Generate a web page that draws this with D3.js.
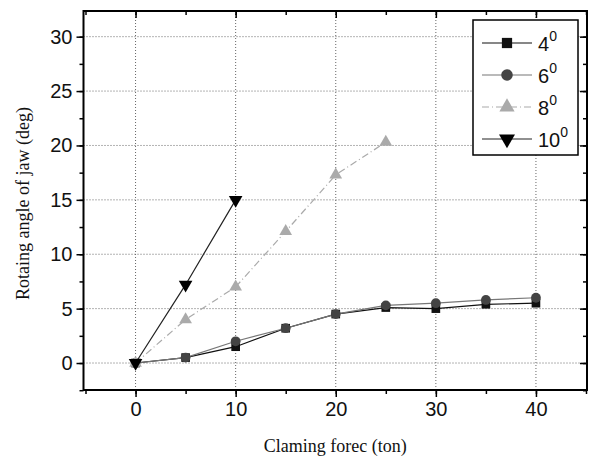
<!DOCTYPE html>
<html>
<head>
<meta charset="utf-8">
<script src="https://cdn.jsdelivr.net/npm/d3@7"></script>
<style>
  body { margin: 0; background: #fff; }
  svg { display: block; }
</style>
</head>
<body>
<div id="chart"></div>
<script>
// Data
const force = [0, 5, 10, 15, 20, 25, 30, 35, 40];
const angle4 = [0, 0.5, 1.5, 3.2, 4.5, 5.1, 5.0, 5.4, 5.5];
const angle6 = [0, 0.5, 2.0, 3.2, 4.5, 5.3, 5.5, 5.8, 6.0];
const angle8 = [0, 4.0, 7.0, 12.1, 17.3, 20.3];
const angle10 = [0, 7.2, 15.0];
const seriesLabels = ["4", "6", "8", "10"];
const xTicks = [0, 10, 20, 30, 40];
const yTicks = [0, 5, 10, 15, 20, 25, 30];

const width = 589, height = 463;
const plotL = 83.5, plotR = 587, plotT = 11, plotB = 390;

const svg = d3.select("#chart").append("svg")
    .attr("width", width)
    .attr("height", height);

const x = d3.scaleLinear().domain([-5.2, 45.1]).range([plotL, plotR]);
const y = d3.scaleLinear().domain([-2.48, 32.36]).range([plotB, plotT]);

// grid
const grid = svg.append("g").attr("stroke", "#666").attr("stroke-width", 1)
    .attr("stroke-dasharray", "1,2");
grid.selectAll(".gx").data(xTicks).enter().append("line")
    .attr("x1", d => x(d)).attr("x2", d => x(d))
    .attr("y1", plotT).attr("y2", plotB);
grid.selectAll(".gy").data(yTicks).enter().append("line")
    .attr("x1", plotL).attr("x2", plotR)
    .attr("y1", d => y(d)).attr("y2", d => y(d));

// axes
const xMinor = d3.range(-5, 46, 5);
const yMinor = d3.range(-2.5, 32.5, 2.5);

function styleAxis(g) {
    g.selectAll(".domain").remove();
    g.selectAll("line").attr("stroke", "#000").attr("stroke-width", 1.5);
    g.selectAll("text").attr("font-family", "Liberation Sans, Arial, sans-serif")
        .attr("font-size", 20).attr("fill", "#111");
}

svg.append("g").attr("transform", `translate(0,${plotB})`)
    .call(d3.axisBottom(x).tickValues(xMinor).tickSize(4).tickFormat(""))
    .call(styleAxis);
svg.append("g").attr("transform", `translate(0,${plotB})`)
    .call(d3.axisBottom(x).tickValues(xTicks).tickSize(7).tickPadding(5).tickFormat(d3.format("d")))
    .call(styleAxis);
svg.append("g").attr("transform", `translate(0,${plotT})`)
    .call(d3.axisBottom(x).tickValues(xMinor).tickSize(4).tickFormat(""))
    .call(styleAxis);
svg.append("g").attr("transform", `translate(0,${plotT})`)
    .call(d3.axisBottom(x).tickValues(xTicks).tickSize(7).tickFormat(""))
    .call(styleAxis);

svg.append("g").attr("transform", `translate(${plotL},0)`)
    .call(d3.axisLeft(y).tickValues(yMinor).tickSize(4).tickFormat(""))
    .call(styleAxis);
svg.append("g").attr("transform", `translate(${plotL},0)`)
    .call(d3.axisLeft(y).tickValues(yTicks).tickSize(7).tickPadding(4).tickFormat(d3.format("d")))
    .call(styleAxis);
svg.append("g").attr("transform", `translate(${plotR},0)`)
    .call(d3.axisLeft(y).tickValues(yMinor).tickSize(4).tickFormat(""))
    .call(styleAxis);
svg.append("g").attr("transform", `translate(${plotR},0)`)
    .call(d3.axisLeft(y).tickValues(yTicks).tickSize(7).tickFormat(""))
    .call(styleAxis);

// frame
svg.append("rect")
    .attr("x", plotL).attr("y", plotT)
    .attr("width", plotR - plotL).attr("height", plotB - plotT)
    .attr("fill", "none").attr("stroke", "#000").attr("stroke-width", 2);

// series
const series = [
    { values: angle4, stroke: "#111", dash: null, fill: "#111", symbol: d3.symbolSquare, size: 75, rot: 0 },
    { values: angle6, stroke: "#777", dash: null, fill: "#444", symbol: d3.symbolCircle, size: 75, rot: 0 },
    { values: angle8, stroke: "#aaa", dash: "7,3,1,3", fill: "#aaa", symbol: d3.symbolTriangle, size: 70, rot: 0 },
    { values: angle10, stroke: "#222", dash: null, fill: "#000", symbol: d3.symbolTriangle, size: 80, rot: 180 }
];

const line = d3.line().x((d, i) => x(force[i])).y(d => y(d));

series.forEach(s => {
    svg.append("path")
        .datum(s.values)
        .attr("d", line)
        .attr("fill", "none")
        .attr("stroke", s.stroke)
        .attr("stroke-width", 1.2)
        .attr("stroke-dasharray", s.dash);
});
series.forEach(s => {
    svg.selectAll(null).data(s.values).enter().append("path")
        .attr("d", d3.symbol().type(s.symbol).size(s.size))
        .attr("transform", (d, i) => `translate(${x(force[i])},${y(d)}) rotate(${s.rot})`)
        .attr("fill", s.fill);
});

// legend
const lg = svg.append("g");
lg.append("rect")
    .attr("x", 473).attr("y", 20).attr("width", 105).attr("height", 135)
    .attr("fill", "#fff").attr("stroke", "#000").attr("stroke-width", 1.5);
series.forEach((s, i) => {
    const cy = 43 + i * 32;
    lg.append("line")
        .attr("x1", 482).attr("x2", 532).attr("y1", cy).attr("y2", cy)
        .attr("stroke", s.stroke).attr("stroke-width", 1.2)
        .attr("stroke-dasharray", s.dash);
    lg.append("path")
        .attr("d", d3.symbol().type(s.symbol).size(s.size + 30))
        .attr("transform", `translate(507,${cy}) rotate(${s.rot})`)
        .attr("fill", s.fill);
    const t = lg.append("text")
        .attr("x", 538).attr("y", cy + 8)
        .attr("font-family", "Liberation Sans, Arial, sans-serif")
        .attr("font-size", 20).attr("fill", "#111")
        .text(seriesLabels[i]);
    t.append("tspan").attr("dy", -10).attr("font-size", 14).text("0");
});

// axis titles
svg.append("text")
    .attr("x", (plotL + plotR) / 2).attr("y", 452)
    .attr("text-anchor", "middle")
    .attr("font-family", "Liberation Serif, Times New Roman, serif")
    .attr("font-size", 18).attr("fill", "#111")
    .text("Claming forec (ton)");
svg.append("text")
    .attr("transform", `translate(29,${(plotT + plotB) / 2 + 3}) rotate(-90)`)
    .attr("text-anchor", "middle")
    .attr("font-family", "Liberation Serif, Times New Roman, serif")
    .attr("font-size", 18).attr("fill", "#111")
    .text("Rotaing angle of jaw (deg)");
</script>
</body>
</html>
